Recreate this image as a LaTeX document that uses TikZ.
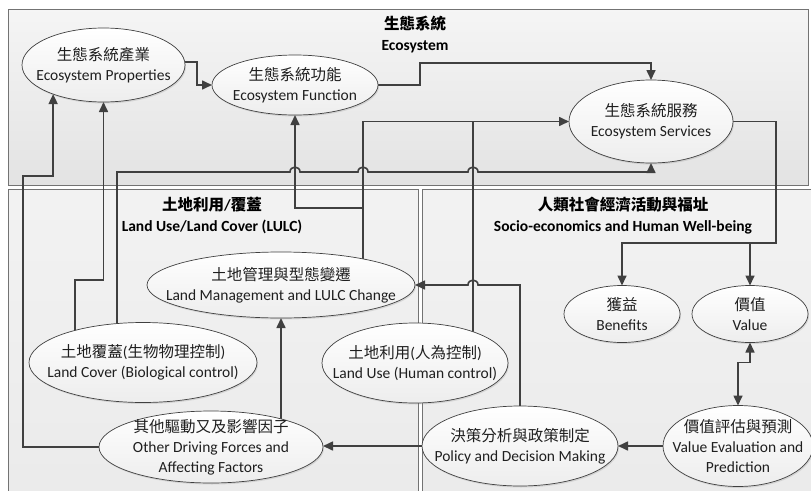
\documentclass[tikz,border=0pt]{standalone}
\usepackage{fontspec}
\setmainfont{Carlito}
\newfontfamily\cjk{Noto Sans CJK TC}
\newcommand\zh[1]{{\cjk #1}}
\usetikzlibrary{shapes.geometric,arrows.meta,shadows}
\pgfdeclarelayer{panels}
\pgfdeclarelayer{links}
\pgfsetlayers{panels,links,main}

\begin{document}
\begin{tikzpicture}[
  x=1pt, y=-1pt,
  panel/.style={draw=black!55, line width=0.9pt},
  bub/.style={ellipse, draw=black!75, line width=0.7pt, top color=white,
    bottom color=black!7, inner sep=0pt, outer sep=0pt,
    drop shadow={shadow xshift=1pt, shadow yshift=-1.5pt, opacity=0.25, fill=black!45}},
  lbl/.style={align=center, inner sep=0pt, text=black!88,
    font=\fontsize{15.5}{20}\selectfont},
  ttl/.style={align=center, inner sep=0pt, font=\bfseries\fontsize{15.5}{21}\selectfont},
  link/.style={draw=black!75, line width=1.6pt, line join=miter},
  arr/.style={link, -{Triangle[length=10pt,width=9pt]}},
  arrboth/.style={link, {Triangle[length=10pt,width=9pt]}-{Triangle[length=10pt,width=9pt]}},
]
\useasboundingbox (0,0) rectangle (811,490);

% three background panels
\begin{pgfonlayer}{panels}
  \path[panel, top color=black!4, bottom color=black!11] (8,9) rectangle (808,185);
  \path[panel, top color=black!5, bottom color=black!8] (8,189) rectangle (418,500);
  \path[panel, top color=black!5, bottom color=black!8] (422,189) rectangle (830,500);
\end{pgfonlayer}

% panel titles
\node[ttl] (ecot) at (415,35) {\zh{生態系統}\\Ecosystem};
\node[ttl] (lulct) at (212,216) {\zh{土地利用}/\zh{覆蓋}\\Land Use/Land Cover (LULC)};
\node[ttl] (sociot) at (623,215.5) {\zh{人類社會經濟活動與福址}\\Socio-economics and Human Well-being};

% ellipses
\node[bub, minimum width=163pt, minimum height=74pt] (prop) at (103.5,65) {};
\node[bub, minimum width=166pt, minimum height=60pt] (func) at (295,85) {};
\node[bub, minimum width=164pt, minimum height=83pt] (serv) at (651,121.5) {};
\node[bub, minimum width=268pt, minimum height=66pt] (lm) at (281,285) {};
\node[bub, minimum width=228pt, minimum height=80pt] (cover) at (143,362.5) {};
\node[bub, minimum width=186pt, minimum height=80pt] (use) at (415,363) {};
\node[bub, minimum width=224pt, minimum height=72pt] (other) at (211,447) {};
\node[bub, minimum width=196pt, minimum height=80pt] (policy) at (520,446) {};
\node[bub, minimum width=150pt, minimum height=81pt] (valeval) at (738,446) {};
\node[bub, minimum width=116pt, minimum height=57pt] (ben) at (622,314) {};
\node[bub, minimum width=116pt, minimum height=57pt] (val) at (750,314) {};

% ellipse texts
\node[lbl] (propt) at (prop) {\zh{生態系統產業}\\Ecosystem Properties};
\node[lbl] (funct) at (func) {\zh{生態系統功能}\\Ecosystem Function};
\node[lbl] (servt) at (serv) {\zh{生態系統服務}\\Ecosystem Services};
\node[lbl] (lmt) at (lm) {\zh{土地管理與型態變遷}\\Land Management and LULC Change};
\node[lbl] (covert) at (cover) {\zh{土地覆蓋}(\zh{生物物理控制})\\Land Cover (Biological control)};
\node[lbl] (uset) at (use) {\zh{土地利用}(\zh{人為控制})\\Land Use (Human control)};
\node[lbl] (othert) at (other) {\zh{其他驅動又及影響因子}\\Other Driving Forces and\\Affecting Factors};
\node[lbl] (policyt) at (policy) {\zh{決策分析與政策制定}\\Policy and Decision Making};
\node[lbl] (valevalt) at (valeval) {\zh{價值評估與預測}\\Value Evaluation and\\Prediction};
\node[lbl] (bent) at (ben) {\zh{獲益}\\Benefits};
\node[lbl] (valt) at (val) {\zh{價值}\\Value};

\coordinate (split) at (776,243);

% connectors, kept beneath the ellipses
\begin{pgfonlayer}{links}
  \draw[arr] (prop.2) -- ++(12,0) |- (func.west);
  \draw[arr] (func.east) -- ++(42,0) |- ([yshift=17pt]serv.north) -- (serv.north);
  \draw[arr] (serv.east) -| (split) -| (ben.north);
  \draw[arr] (split -| val.north) -- (val.north);
  \draw[arrboth] (val.south) -- ++(0,20) -| (valeval.north);
  \draw[arr] (valeval.west) -- (policy.east);
  \draw[arr] (policy.west) -- (policy.west -| other.east);
  \draw[arr] (other.center -| lm.south) -- (lm.south);
  \draw[arr] (other.center) -| (23,176) -| (prop.210);
  \draw[arr] ([xshift=-68pt]cover.center) -- ++(0,-82.5) -| (prop.south);
  \draw[arr] ([xshift=-26pt]cover.center) -- ++(0,-190.5)
    -- (290,172) .. controls (290,165.5) and (300,165.5) .. (300,172)
    -- (358,172) .. controls (358,165.5) and (368,165.5) .. (368,172)
    -- (468,172) .. controls (468,165.5) and (478,165.5) .. (478,172)
    -| (serv.south);
  \draw[arr] ([xshift=82pt]lm.center) -- ++(0,-77) -| (func.south);
  \draw[arr] ([xshift=82pt]lm.center) |- (serv.west);
  \draw[link] ([xshift=58pt]use.center) -- ++(0,-241.5);
  \draw[arr] (policy.north) |- (478,285)
    .. controls (478,278.5) and (468,278.5) .. (468,285) -- (lm.east);
\end{pgfonlayer}
\end{tikzpicture}
\end{document}
